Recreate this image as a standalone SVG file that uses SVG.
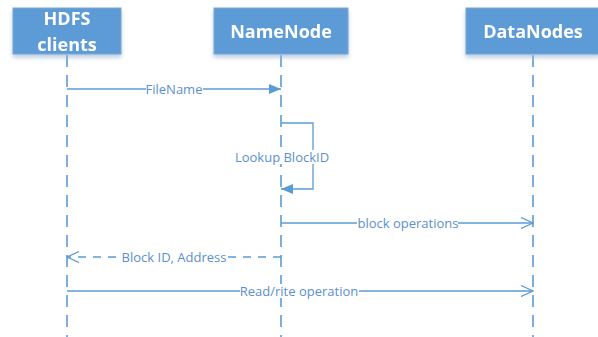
<svg xmlns="http://www.w3.org/2000/svg" width="598" height="337" viewBox="0 0 598 337">
  <defs>
    <style>
      .box { fill: #5b9bd5; stroke: #7fa7cf; stroke-width: 1; }
      .head { font-family: "Open Sans", "Liberation Sans", sans-serif; font-weight: bold; font-size: 18px; fill: #ffffff; text-anchor: middle; }
      .life { stroke: #5b9bd5; stroke-width: 1.6; stroke-dasharray: 12 8; fill: none; }
      .msg { stroke: #5b9bd5; stroke-width: 1.3; fill: none; }
      .ret { stroke: #5b9bd5; stroke-width: 1.3; stroke-dasharray: 8 7; fill: none; }
      .lbl { font-family: "Open Sans", "Liberation Sans", sans-serif; font-size: 13px; fill: #5b8fd0; text-anchor: middle; }
      .bg { fill: #ffffff; }
    </style>
    <filter id="shadow" x="-20%" y="-20%" width="140%" height="160%">
      <feGaussianBlur in="SourceAlpha" stdDeviation="2"/>
      <feOffset dx="0" dy="3" result="b"/>
      <feFlood flood-color="#9db8d6" flood-opacity="0.7"/>
      <feComposite in2="b" operator="in"/>
      <feMerge><feMergeNode/><feMergeNode in="SourceGraphic"/></feMerge>
    </filter>
    <marker id="filled" viewBox="0 0 12 10" refX="12" refY="5" markerWidth="12" markerHeight="10" markerUnits="userSpaceOnUse" orient="auto">
      <path d="M0,0 L12,5 L0,10 Z" fill="#5b9bd5"/>
    </marker>
    <marker id="open" viewBox="0 0 14 12" refX="13" refY="6" markerWidth="14" markerHeight="12" markerUnits="userSpaceOnUse" orient="auto">
      <path d="M1,0.5 L13,6 L1,11.5" fill="none" stroke="#5b9bd5" stroke-width="1.3"/>
    </marker>
  </defs>

  <rect width="598" height="337" fill="#ffffff"/>

  <!-- lifelines and messages -->
  <g id="connectors">
    <line class="life" x1="67" y1="55" x2="67" y2="337"/>
    <line class="life" x1="281" y1="55" x2="281" y2="337"/>
    <line class="life" x1="533" y1="55" x2="533" y2="337"/>

    <!-- FileName -->
    <line class="msg" x1="67" y1="89" x2="281" y2="89" marker-end="url(#filled)"/>
    <rect class="bg" x="146" y="82" width="57" height="14"/>
    <text class="lbl" x="174" y="93.5">FileName</text>

    <!-- Lookup BlockID (self call) -->
    <path class="msg" d="M281,123 H313 V189 H281" marker-end="url(#filled)"/>
    <rect class="bg" x="236" y="150" width="93" height="14"/>
    <text class="lbl" x="282" y="161.5">Lookup BlockID</text>

    <!-- block operations -->
    <line class="msg" x1="281" y1="223" x2="533" y2="223" marker-end="url(#open)"/>
    <rect class="bg" x="357" y="216" width="101" height="14"/>
    <text class="lbl" x="408" y="227.5">block operations</text>

    <!-- Block ID, Address (reply) -->
    <line class="ret" x1="281" y1="257" x2="67" y2="257" marker-end="url(#open)"/>
    <rect class="bg" x="122" y="250" width="104" height="14"/>
    <text class="lbl" x="174" y="261.5">Block ID, Address</text>

    <!-- Read/rite operation -->
    <line class="msg" x1="67" y1="291" x2="533" y2="291" marker-end="url(#open)"/>
    <rect class="bg" x="240" y="284" width="119" height="14"/>
    <text class="lbl" x="299" y="295.5">Read/rite operation</text>
  </g>

  <g id="hdfs-clients" filter="url(#shadow)">
    <rect class="box" x="13" y="8" width="108" height="46"/>
    <text class="head" x="67" y="25">HDFS</text>
    <text class="head" x="67" y="51">clients</text>
  </g>

  <g id="namenode" filter="url(#shadow)">
    <rect class="box" x="214" y="8" width="134" height="46"/>
    <text class="head" x="281" y="38">NameNode</text>
  </g>

  <g id="datanodes" filter="url(#shadow)">
    <rect class="box" x="466" y="8" width="134" height="46"/>
    <text class="head" x="533" y="38">DataNodes</text>
  </g>
</svg>
